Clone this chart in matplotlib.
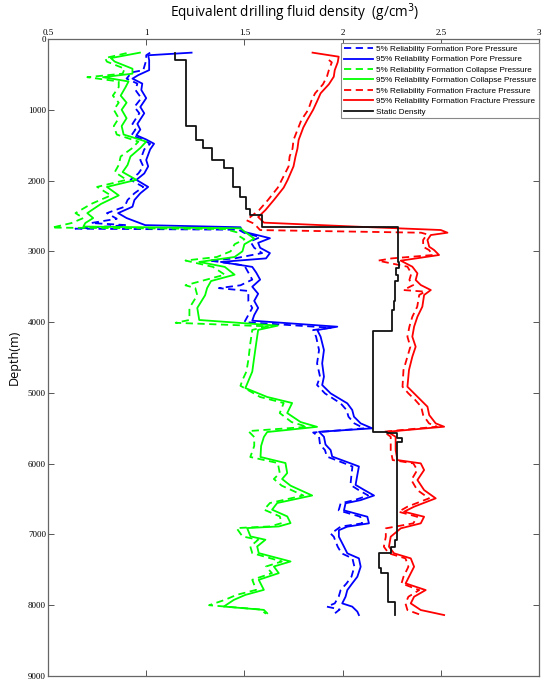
import numpy as np
import matplotlib
matplotlib.use('Agg')
import matplotlib.pyplot as plt

# pore pressure (blue)
pore95_d = [193, 230, 300, 440, 510, 560, 630, 720, 836, 960, 1050, 1200, 1280, 1360, 1420, 1480, 1560, 1710,
            1800, 1900, 1990, 2090, 2180, 2275, 2370, 2460, 2530, 2630, 2660, 2720, 2760, 2815, 2880, 2950, 3025,
            3100, 3150, 3220, 3300, 3400, 3500, 3600, 3700, 3800, 3900, 3980, 4065, 4112, 4206, 4395, 4583, 4771,
            4889, 5007, 5148, 5242, 5337, 5431, 5501, 5550, 5620, 5730, 5808, 5900, 5996, 6040, 6160, 6300, 6370,
            6450, 6515, 6560, 6660, 6750, 6843, 6890, 6940, 7032, 7173, 7267, 7338, 7456, 7598, 7692, 7786, 7880,
            7974, 8020, 8090, 8139]
pore95_v = [1.231, 1.01, 1.015, 1.015, 0.96, 0.93, 0.98, 0.975, 1.0, 0.97, 0.99, 0.955, 0.97, 0.95, 1.0, 1.04, 1.02, 1.0,
            1.01, 0.99, 0.95, 1.01, 0.97, 0.94, 0.93, 0.857, 0.90, 0.995, 1.48, 1.49, 1.55, 1.63, 1.57, 1.58, 1.63,
            1.61, 1.38, 1.54, 1.56, 1.58, 1.54, 1.57, 1.55, 1.57, 1.55, 1.54, 1.973, 1.871, 1.888, 1.905, 1.896, 1.905,
            1.896, 1.939, 2.024, 2.049, 2.058, 2.092, 2.151, 1.88, 1.905, 1.913, 1.939, 1.947, 2.041, 2.083, 2.075, 2.066, 2.109,
            2.160, 2.092, 2.015, 2.007, 2.126, 2.134, 2.024, 1.981, 1.981, 2.007, 2.024, 2.083, 2.092, 2.075, 2.049, 2.024, 2.015,
            1.998, 2.049, 2.075, 2.083]

pore5_d = [193, 230, 300, 440, 470, 510, 560, 630, 720, 836, 960, 1050, 1200, 1280, 1360, 1420, 1480, 1560, 1710,
           1800, 1900, 1990, 2090, 2180, 2275, 2370, 2460, 2540, 2600, 2630, 2680, 2695, 2740, 2800, 2860, 2950,
           3025, 3100, 3130, 3200, 3300, 3400, 3480, 3520, 3560, 3700, 3800, 3900, 4000, 4080, 4112, 4206, 4395,
           4583, 4771, 4889, 5007, 5148, 5242, 5337, 5431, 5501, 5560, 5620, 5730, 5808, 5900, 5996, 6040, 6160,
           6300, 6370, 6450, 6515, 6560, 6660, 6750, 6843, 6890, 6990, 7032, 7173, 7267, 7338, 7456, 7598, 7692,
           7786, 7880, 7974, 8020, 8060, 8139]
pore5_v = [1.02, 1.0, 1.0, 0.985, 0.93, 0.915, 0.90, 0.955, 0.945, 0.975, 0.94, 0.965, 0.93, 0.945, 0.925, 0.98, 1.02, 0.99, 0.97,
           0.985, 0.96, 0.92, 0.985, 0.94, 0.905, 0.89, 0.80, 0.85, 0.72, 0.90, 0.64, 1.47, 1.50, 1.58, 1.53, 1.55,
           1.59, 1.45, 1.32, 1.50, 1.52, 1.54, 1.48, 1.37, 1.52, 1.52, 1.54, 1.52, 1.50, 1.94, 1.85, 1.865, 1.88,
           1.87, 1.885, 1.87, 1.91, 1.99, 2.02, 2.03, 2.06, 2.11, 1.85, 1.88, 1.885, 1.91, 1.92, 2.01, 2.05, 2.045,
           2.04, 2.08, 2.13, 2.06, 1.99, 1.98, 2.09, 2.10, 1.99, 1.94, 1.955, 1.975, 1.995, 2.05, 2.06, 2.045, 2.02,
           1.99, 1.98, 1.96, 1.92, 1.985, 1.95]

# collapse pressure (green)
coll95_d = [193, 270, 320, 420, 490, 540, 600, 680, 800, 900, 1000, 1120, 1230, 1350, 1450, 1540, 1660, 1780, 1880,
            1990, 2090, 2210, 2330, 2460, 2530, 2600, 2650, 2675, 2720, 2760, 2820, 2900, 3000, 3080, 3150, 3220,
            3330, 3420, 3520, 3620, 3800, 3970, 4050, 4110, 4300, 4536, 4700, 4819, 4932, 5058, 5143, 5285, 5412,
            5480, 5553, 5624, 5750, 5906, 5991, 6133, 6217, 6311, 6450, 6556, 6650, 6745, 6840, 6887, 6910, 7028,
            7075, 7170, 7264, 7382, 7453, 7547, 7641, 7783, 7854, 7925, 8019, 8066, 8113]
coll95_v = [0.968, 0.82, 0.84, 0.93, 0.93, 0.78, 0.91, 0.895, 0.87, 0.90, 0.875, 0.90, 0.875, 0.885, 1.0, 0.97, 0.92, 0.905, 0.88,
            0.95, 0.80, 0.86, 0.77, 0.70, 0.73, 0.69, 0.68, 1.48, 1.50, 1.52, 1.55, 1.50, 1.49, 1.45, 1.27, 1.40,
            1.45, 1.33, 1.31, 1.30, 1.26, 1.27, 1.67, 1.57, 1.56, 1.548, 1.54, 1.522, 1.505, 1.616, 1.743, 1.718, 1.786,
            1.87, 1.616, 1.599, 1.585, 1.582, 1.709, 1.718, 1.692, 1.735, 1.845, 1.667, 1.641, 1.718, 1.735, 1.675, 1.514, 1.531,
            1.607, 1.565, 1.573, 1.735, 1.650, 1.675, 1.573, 1.599, 1.505, 1.446, 1.395, 1.599, 1.616]

coll5_d = [200, 270, 320, 420, 490, 540, 600, 680, 800, 900, 1000, 1120, 1230, 1350, 1450, 1540, 1660, 1780, 1880,
           1990, 2090, 2210, 2330, 2460, 2530, 2600, 2665, 2685, 2730, 2780, 2830, 2900, 3000, 3080, 3130, 3220,
           3330, 3420, 3480, 3520, 3620, 3800, 3970, 4010, 4060, 4110, 4300, 4536, 4700, 4819, 4900, 5058, 5143,
           5285, 5412, 5480, 5540, 5624, 5750, 5906, 5991, 6133, 6217, 6311, 6450, 6556, 6650, 6745, 6840, 6887,
           6910, 7028, 7075, 7170, 7264, 7382, 7453, 7547, 7641, 7783, 7854, 7925, 8000, 8060, 8120]
coll5_v = [0.90, 0.79, 0.80, 0.89, 0.88, 0.70, 0.86, 0.86, 0.83, 0.86, 0.835, 0.86, 0.835, 0.85, 0.96, 0.93, 0.87, 0.86, 0.84,
           0.90, 0.75, 0.82, 0.72, 0.64, 0.68, 0.62, 0.52, 1.40, 1.46, 1.47, 1.50, 1.45, 1.43, 1.36, 1.20, 1.34,
           1.40, 1.28, 1.20, 1.25, 1.26, 1.22, 1.22, 1.15, 1.62, 1.54, 1.53, 1.52, 1.51, 1.49, 1.48, 1.58, 1.70,
           1.68, 1.74, 1.82, 1.52, 1.55, 1.55, 1.53, 1.67, 1.68, 1.65, 1.69, 1.80, 1.63, 1.60, 1.68, 1.69, 1.63,
           1.46, 1.49, 1.57, 1.53, 1.54, 1.69, 1.61, 1.64, 1.54, 1.56, 1.46, 1.40, 1.32, 1.58, 1.61]

# fracture pressure (red)
frac95_d = [193, 250, 330, 440, 533, 640, 767, 880, 1000, 1145, 1250, 1427, 1550, 1663, 1800, 1992, 2100, 2275,
            2417, 2516, 2595, 2652, 2699, 2737, 2770, 2840, 2935, 2982, 3052, 3132, 3217, 3311, 3405, 3476, 3547,
            3617, 3782, 3924, 4065, 4206, 4348, 4489, 4677, 4913, 5007, 5101, 5195, 5313, 5431, 5478, 5549, 5620,
            5808, 5949, 5996, 6090, 6231, 6373, 6490, 6608, 6679, 6750, 6843, 6914, 7032, 7173, 7267, 7338, 7456,
            7598, 7692, 7786, 7880, 7974, 8068, 8139]
frac95_v = [1.847, 1.98, 1.975, 1.96, 1.955, 1.93, 1.888, 1.87, 1.85, 1.82, 1.80, 1.776, 1.77, 1.76, 1.75, 1.72, 1.70, 1.65,
            1.607, 1.57, 1.60, 2.075, 2.50, 2.534, 2.449, 2.432, 2.441, 2.466, 2.491, 2.296, 2.355, 2.381, 2.372, 2.398, 2.449,
            2.415, 2.406, 2.381, 2.364, 2.355, 2.372, 2.355, 2.338, 2.330, 2.364, 2.398, 2.432, 2.441, 2.474, 2.517, 2.228, 2.270,
            2.270, 2.279, 2.398, 2.415, 2.381, 2.415, 2.474, 2.364, 2.313, 2.415, 2.398, 2.296, 2.245, 2.236, 2.262, 2.347, 2.364,
            2.338, 2.321, 2.423, 2.364, 2.347, 2.398, 2.517]

frac5_d = [297, 330, 440, 533, 640, 767, 880, 1000, 1145, 1250, 1427, 1550, 1663, 1800, 1992, 2100, 2275, 2417,
           2516, 2560, 2610, 2700, 2737, 2760, 2840, 2935, 2982, 3052, 3100, 3132, 3217, 3311, 3405, 3476, 3547,
           3570, 3617, 3782, 3924, 4065, 4206, 4348, 4489, 4677, 4913, 5007, 5101, 5195, 5313, 5431, 5478, 5549,
           5620, 5808, 5949, 5996, 6090, 6231, 6373, 6490, 6608, 6679, 6750, 6843, 6914, 7032, 7173, 7267, 7338,
           7456, 7598, 7692, 7786, 7880, 7974, 8068, 8139]
frac5_v = [1.93, 1.945, 1.93, 1.92, 1.90, 1.86, 1.84, 1.825, 1.79, 1.775, 1.75, 1.745, 1.73, 1.725, 1.69, 1.67, 1.62, 1.575,
           1.53, 1.51, 1.55, 1.58, 2.40, 2.43, 2.41, 2.41, 2.44, 2.46, 2.25, 2.18, 2.33, 2.35, 2.34, 2.36, 2.31,
           2.42, 2.39, 2.38, 2.355, 2.34, 2.33, 2.345, 2.33, 2.31, 2.305, 2.335, 2.37, 2.40, 2.41, 2.44, 2.48, 2.21,
           2.245, 2.245, 2.255, 2.36, 2.38, 2.35, 2.38, 2.44, 2.33, 2.285, 2.38, 2.36, 2.22, 2.22, 2.21, 2.235, 2.32,
           2.335, 2.31, 2.30, 2.39, 2.335, 2.32, 2.33, 2.40]

# static density (black), piecewise constant between depth bounds
static_bounds = [193, 297, 1230, 1427, 1540, 1710, 1823, 2090, 2232, 2400, 2480, 2660, 3146, 3230, 3330, 3420,
                 3700, 3830, 4126, 5549, 5573, 5643, 5690, 7080, 7173, 7267, 7479, 7550, 7951, 8139]
static_v = [1.146, 1.204, 1.255, 1.29, 1.337, 1.398, 1.444, 1.48, 1.51, 1.53, 1.59, 2.282, 2.288, 2.271, 2.282,
            2.266, 2.262, 2.253, 2.157, 2.228, 2.279, 2.304, 2.279, 2.266, 2.245, 2.185, 2.194, 2.231, 2.265]

labels = ['5% Reliability Formation Pore Pressure', '95% Reliability Formation Pore Pressure',
          '5% Reliability Formation Collapse Pressure', '95% Reliability Formation Collapse Pressure',
          '5% Reliability Formation Fracture Pressure', '95% Reliability Formation Fracture Pressure',
          'Static Density']

fig = plt.figure(figsize=(5.5, 6.9), dpi=100)
ax = fig.add_axes([0.0873, 0.0203, 0.8927, 0.9232])

lw = 1.3
dash = (4, 2.5)
ax.plot(pore5_v, pore5_d, color='#0000ff', lw=lw, ls='--', dashes=dash, label=labels[0])
ax.plot(pore95_v, pore95_d, color='#0000ff', lw=lw, label=labels[1])
ax.plot(coll5_v, coll5_d, color='#00ff00', lw=lw, ls='--', dashes=dash, label=labels[2])
ax.plot(coll95_v, coll95_d, color='#00ff00', lw=lw, label=labels[3])
ax.plot(frac5_v, frac5_d, color='#ff0000', lw=lw, ls='--', dashes=dash, label=labels[4])
ax.plot(frac95_v, frac95_d, color='#ff0000', lw=lw, label=labels[5])

sx = np.repeat(static_v, 2)
sy = np.repeat(static_bounds, 2)[1:-1]
ax.plot(sx, sy, color='#111111', lw=lw, label=labels[6])

ax.set_xlim(0.5, 3)
ax.set_ylim(9000, 0)
ax.set_xticks([0.5, 1, 1.5, 2, 2.5, 3])
ax.set_xticklabels(['0.5', '1', '1.5', '2', '2.5', '3'])
ax.set_yticks(range(0, 9001, 1000))
ax.xaxis.tick_top()
ax.tick_params(axis='both', which='both', direction='in', top=True, bottom=True, left=True, right=True,
               length=4, width=0.7, color='#555555', labelsize=6.5, pad=1.5)
for lab in ax.get_xticklabels() + ax.get_yticklabels():
    lab.set_family('Liberation Serif')
for s in ax.spines.values():
    s.set_color('#666666')
    s.set_linewidth(0.9)

ax.set_ylabel('Depth(m)', fontsize=9, family='Open Sans', labelpad=5)
fig.text(0.535, 0.981, 'Equivalent drilling fluid density  (g/cm$^3$)', ha='center', va='center',
         fontsize=9.8, family='Open Sans')

leg = ax.legend(loc='upper right', bbox_to_anchor=(0.999, 0.994), borderaxespad=0,
                handlelength=3.6, handletextpad=0.3, labelspacing=0.33, borderpad=0.3,
                fancybox=False, framealpha=1, edgecolor='#888888', prop={'family': 'Liberation Sans', 'size': 5.9})
leg.get_frame().set_linewidth(0.8)

fig.savefig('out.png', dpi=100)
